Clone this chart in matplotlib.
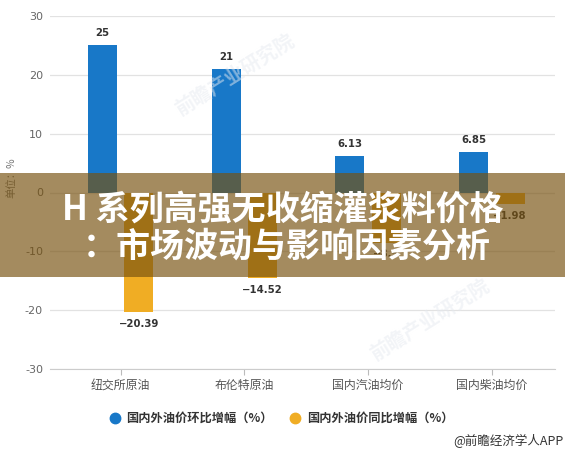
import matplotlib
matplotlib.use("Agg")
import matplotlib.pyplot as plt
from matplotlib.patches import Rectangle
from matplotlib.lines import Line2D
import numpy as np

plt.rcParams['font.family'] = ['Noto Sans CJK SC', 'DejaVu Sans']

categories = ["纽交所原油", "布伦特原油", "国内汽油均价", "国内柴油均价"]
mom_values = [25, 21, 6.13, 6.85]
yoy_values = [-20.39, -14.52, -8.5, -1.98]
mom_labels = ["25", "21", "6.13", "6.85"]
yoy_labels = ["\u221220.39", "\u221214.52", "\u22128.5", "\u22121.98"]
series_names = ["国内外油价环比增幅（%）", "国内外油价同比增幅（%）"]
y_ticks = [30, 20, 10, 0, -10, -20, -30]
title_lines = ["H 系列高强无收缩灌浆料价格", "：市场波动与影响因素分析"]
y_unit = "单位：%"
footer = "@前瞻经济学人APP"

W, H = 565, 453
fig = plt.figure(figsize=(W / 100, H / 100), dpi=100)
fig.patch.set_facecolor("white")

def px(x, y):
    return x / W, 1 - y / H

ax_l, ax_r, ax_t, ax_b = 50, 555, 16, 369
ax = fig.add_axes([ax_l / W, 1 - ax_b / H, (ax_r - ax_l) / W, (ax_b - ax_t) / H])

blue = "#1878c8"
orange = "#f0ad24"
x = np.arange(len(categories))
bw = 0.234
off = 0.147
ax.bar(x - off, mom_values, bw, color=blue, zorder=3)
ax.bar(x + off, yoy_values, bw, color=orange, zorder=3)

ax.set_xlim(-0.57, 3.51)
ax.set_ylim(-30, 30)
ax.set_yticks(y_ticks)
ax.set_yticklabels([str(v) for v in y_ticks], color="#666666", fontsize=8, family="DejaVu Sans")
ax.set_xticks(x)
ax.set_xticklabels(categories, color="#555555", fontsize=8.6)
ax.tick_params(axis="y", length=0, pad=5)
ax.tick_params(axis="x", length=4, color="#bbbbbb", pad=3)
for s in ["top", "right", "left"]:
    ax.spines[s].set_visible(False)
ax.spines["bottom"].set_color("#cccccc")
ax.grid(axis="y", color="#e2e2e2", linewidth=0.9, zorder=0)
ax.set_axisbelow(True)

for xi, v, lab in zip(x, mom_values, mom_labels):
    ax.annotate(lab, (xi - off, v), xytext=(0, 5), textcoords="offset points",
                ha="center", va="bottom", fontsize=7.3, fontweight="bold", color="#333333",
                family="DejaVu Sans", zorder=4)
for xi, v, lab in zip(x, yoy_values, yoy_labels):
    ax.annotate(lab, (xi + off, v), xytext=(0, -5), textcoords="offset points",
                ha="center", va="top", fontsize=7.3, fontweight="bold", color="#333333",
                family="DejaVu Sans", zorder=4)

# y unit label
fig.text(*px(11, 178), y_unit, rotation=90, ha="center", va="center", fontsize=7.5, color="#777777")

# faint watermarks
for (wx, wy) in [(235, 75), (430, 320)]:
    fig.text(*px(wx, wy), "前瞻产业研究院", rotation=32, ha="center", va="center",
             fontsize=14, color="#e6eaf0", alpha=0.5, fontweight="bold", zorder=0)

# legend
lx1, lx2, ly = 115, 295, 418
fig.add_artist(Line2D([lx1 / W], [1 - ly / H], marker="o", markersize=7.5, color=blue,
                      linestyle="none", transform=fig.transFigure))
fig.add_artist(Line2D([lx2 / W], [1 - ly / H], marker="o", markersize=7.5, color=orange,
                      linestyle="none", transform=fig.transFigure))
fig.text(*px(126, ly), series_names[0], ha="left", va="center", fontsize=8.8,
         fontweight="bold", color="#333333")
fig.text(*px(307, ly), series_names[1], ha="left", va="center", fontsize=8.8,
         fontweight="bold", color="#333333")

# footer
fig.text(*px(563, 441), footer, ha="right", va="center", fontsize=9, color="#333333")

# banner overlay
fig.add_artist(Rectangle((0, 1 - 277 / H), 1, 104 / H, transform=fig.transFigure,
                         facecolor="#775210", alpha=0.67, edgecolor="none", zorder=10))
fig.text(*px(283, 209), title_lines[0], ha="center", va="center", fontsize=24.5,
         fontweight="heavy", color="white", zorder=11)
fig.text(*px(287, 246), title_lines[1], ha="center", va="center", fontsize=24.5,
         fontweight="heavy", color="white", zorder=11)

fig.savefig("out.png", dpi=100, facecolor="white")
